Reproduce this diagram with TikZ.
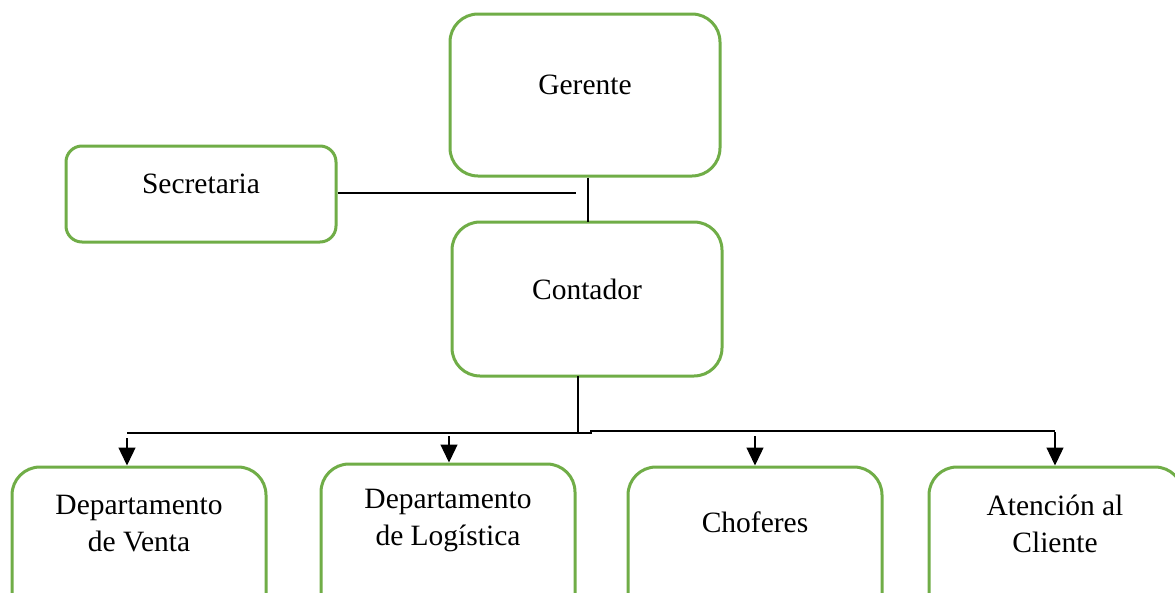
\documentclass[tikz,border=0pt]{standalone}
\usepackage{fontspec}
\setmainfont{Liberation Serif}
\usetikzlibrary{arrows.meta}
\definecolor{boxgreen}{HTML}{70AD47}
\begin{document}
\begin{tikzpicture}[x=1pt,y=-1pt,
  box/.style={draw=boxgreen,line width=3pt,rounded corners=28pt,fill=white,inner sep=0pt},
  lbl/.style={font=\fontsize{29.5}{37}\selectfont,align=center,inner sep=0pt},
  conn/.style={draw=black,line width=1.3pt},
  arr/.style={conn,-{Triangle[length=18pt,width=17pt]}}]
\useasboundingbox (0,0) rectangle (1175,592);
\clip (0,0) rectangle (1175,592);
% boxes
\node[box,minimum width=270pt,minimum height=162pt] (ger) at (585,95) {};
\node[box,minimum width=270pt,minimum height=96pt,rounded corners=16pt] (sec) at (201,194) {};
\node[box,minimum width=270pt,minimum height=154pt] (con) at (587,299) {};
\node[box,minimum width=254pt,minimum height=160pt] (ven) at (139,547) {};
\node[box,minimum width=254pt,minimum height=160pt] (log) at (448,544) {};
\node[box,minimum width=254pt,minimum height=160pt] (cho) at (755,547) {};
\node[box,minimum width=254pt,minimum height=160pt] (ate) at (1056,547) {};
% labels
\node[lbl] (tger) at (585,85) {Gerente};
\node[lbl] (tsec) at (201,184) {Secretaria};
\node[lbl] (tcon) at (587,289) {Contador};
\node[lbl] (tven) at (139,524) {Departamento\\de Venta};
\node[lbl] (tlog) at (448,521) {Departamento\\de Logística};
\node[lbl] (tcho) at (755,522) {Choferes};
\node[lbl] (tate) at (1055,524) {Atención al\\Cliente};
% connector points
\coordinate (secend) at (576,193);
\coordinate (contop) at (588,222);
\coordinate (conbot) at (578,376);
\coordinate (busl) at (127,433);
\coordinate (busm) at (578,433);
\coordinate (busk) at (591,433);
\coordinate (busr) at (1055,431);
\coordinate (a1) at (127,438);
\coordinate (a2) at (449,436);
\coordinate (a3) at (755,436);
\coordinate (a4) at (1055,432);
% connectors
\draw[conn] (ger.south -| contop) -- (contop);
\draw[conn] (sec.east |- secend) -- (secend);
\draw[conn] (conbot) -- (busm);
\draw[conn] (busl) -- (busk) -- ++(0,-2) -- (busr);
\draw[arr] (a1) -- (a1 |- ven.north);
\draw[arr] (a2) -- (a2 |- log.north);
\draw[arr] (a3) -- (a3 |- cho.north);
\draw[arr] (a4) -- (a4 |- ate.north);
\end{tikzpicture}
\end{document}
